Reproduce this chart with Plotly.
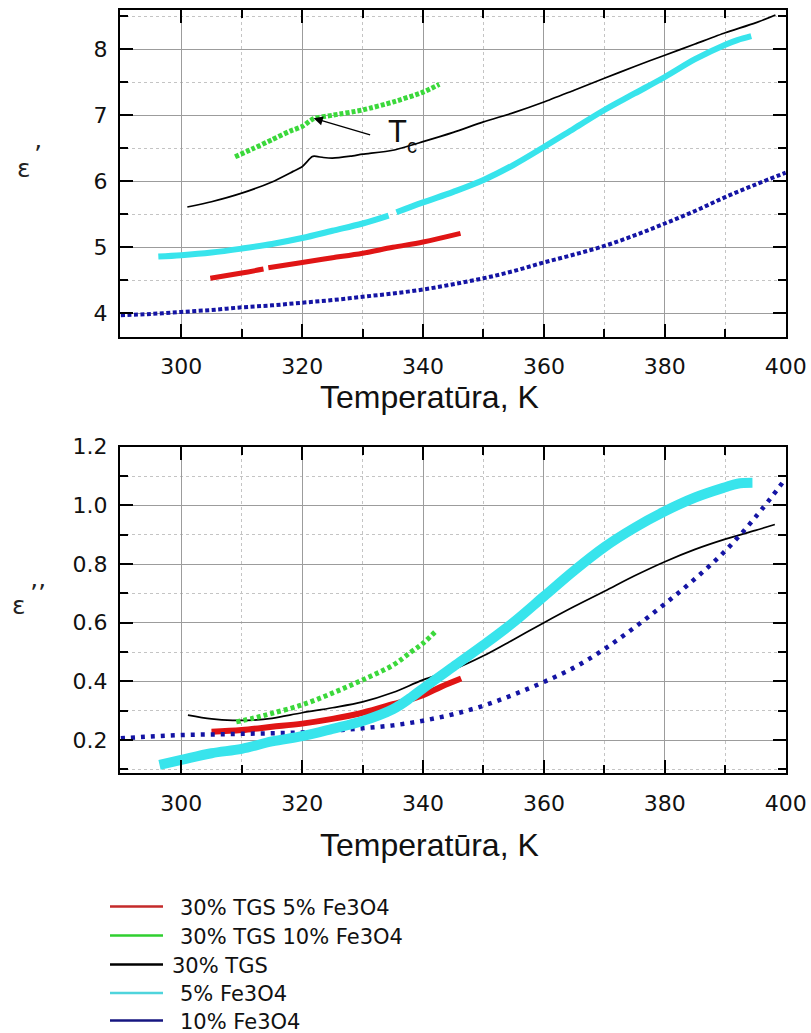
import plotly.graph_objects as go

W, H = 811, 1033

# ---- series labels and colours -------------------------------------------
names = ["30% TGS 5% Fe3O4", "30% TGS 10% Fe3O4", "30% TGS", "5% Fe3O4", "10% Fe3O4"]
legend_colors = ["#c42a2a", "#2fcf2f", "#000000", "#4fd4dc", "#161680"]

# ---- real part, eps' -----------------------------------------------------
t_red_1 = [304.8, 310, 313.6, None, 314.4, 320, 325, 330, 335, 340, 346.2]
e_red_1 = [4.53, 4.61, 4.67, None, 4.69, 4.77, 4.84, 4.91, 5.00, 5.08, 5.21]

t_green_1 = [308.9, 312, 315, 318, 320, 321.9, 325, 330, 335, 340, 342.7]
e_green_1 = [6.37, 6.50, 6.63, 6.76, 6.83, 6.95, 7.00, 7.08, 7.20, 7.35, 7.47]

t_black_1 = [301, 305, 310, 315, 318.5, 320, 321.6, 322, 323.5, 325, 328, 330, 335,
             340, 345, 350, 355, 360, 365, 370, 375, 380, 385, 390, 395, 398.3]
e_black_1 = [5.61, 5.69, 5.82, 5.99, 6.15, 6.22, 6.37, 6.38, 6.36, 6.35, 6.38, 6.41, 6.47,
             6.60, 6.74, 6.90, 7.04, 7.20, 7.38, 7.56, 7.74, 7.91, 8.08, 8.25, 8.40, 8.52]

t_cyan_1 = [296.2, 300, 305, 310, 315, 320, 325, 330, 334.3, None, 335.6, 340, 345,
            350, 355, 360, 365, 370, 375, 380, 385, 390, 392, 394.3]
e_cyan_1 = [4.86, 4.88, 4.92, 4.98, 5.05, 5.14, 5.25, 5.36, 5.48, None, 5.53, 5.68, 5.84,
            6.02, 6.25, 6.52, 6.80, 7.08, 7.33, 7.58, 7.85, 8.07, 8.14, 8.20]

t_blue_1 = [290, 295, 300, 305, 310, 315, 320, 325, 330, 335, 340, 345, 350, 355,
            360, 365, 370, 375, 380, 385, 390, 395, 400]
e_blue_1 = [3.97, 3.99, 4.02, 4.05, 4.09, 4.12, 4.16, 4.20, 4.25, 4.30, 4.36, 4.44, 4.53, 4.64,
            4.77, 4.89, 5.02, 5.18, 5.36, 5.55, 5.76, 5.95, 6.13]

# ---- imaginary part, eps'' ------------------------------------------------
t_red_2 = [305, 310, 315, 320, 325, 330, 335, 340, 343, 346.3]
e_red_2 = [0.228, 0.234, 0.245, 0.256, 0.272, 0.293, 0.322, 0.353, 0.382, 0.410]

t_green_2 = [309.1, 312, 315, 320, 325, 330, 335, 338, 340, 342.3]
e_green_2 = [0.262, 0.275, 0.291, 0.320, 0.360, 0.405, 0.455, 0.500, 0.530, 0.575]

t_black_2 = [301.1, 305, 308.5, 312, 315, 320, 325, 330, 335, 340, 345, 350, 355,
             360, 365, 370, 375, 380, 385, 390, 395, 398.2]
e_black_2 = [0.285, 0.272, 0.267, 0.268, 0.274, 0.293, 0.310, 0.330, 0.362, 0.405, 0.440, 0.487, 0.543,
             0.600, 0.655, 0.707, 0.760, 0.808, 0.850, 0.885, 0.915, 0.935]

t_cyan_2 = [296.4, 300, 305, 310, 315, 320, 325, 330, 335, 338, 340, 345, 350,
            355, 360, 365, 370, 375, 380, 385, 390, 392, 394.5]
e_cyan_2 = [0.115, 0.132, 0.155, 0.170, 0.195, 0.213, 0.238, 0.265, 0.305, 0.345, 0.376, 0.450, 0.524,
            0.602, 0.690, 0.778, 0.858, 0.924, 0.980, 1.027, 1.062, 1.074, 1.077]

t_blue_2 = [290, 295, 300, 305, 310, 315, 320, 325, 330, 335, 340, 345, 350, 355,
            360, 365, 370, 375, 380, 385, 390, 395, 400]
e_blue_2 = [0.206, 0.212, 0.217, 0.219, 0.221, 0.223, 0.226, 0.232, 0.240, 0.250, 0.266, 0.288, 0.317,
            0.355, 0.398, 0.447, 0.510, 0.584, 0.664, 0.750, 0.845, 0.960, 1.092]

# ---- axis ticks ----------------------------------------------------------
x_ticks = [300, 320, 340, 360, 380, 400]
x_minor = [290, 310, 330, 350, 370, 390]
y1_ticks = [4, 5, 6, 7, 8]
y1_minor = [4.5, 5.5, 6.5, 7.5, 8.5]
y2_ticks = [0.2, 0.4, 0.6, 0.8, 1.0, 1.2]
y2_minor = [0.1, 0.3, 0.5, 0.7, 0.9, 1.1]


def px_x(p):
    return p / W


def px_y(p):
    return 1 - p / H


X_DOM = [px_x(120), px_x(786)]
Y1_DOM = [px_y(336.7), px_y(10)]
Y2_DOM = [px_y(773.3), px_y(446.7)]

TICK_FONT = dict(family="DejaVu Sans", size=22, color="#111111")


def axis(domain, rng, ticks, minor_vals, anchor, standoff, fmt=None):
    d = dict(
        domain=domain, range=rng, anchor=anchor, automargin=False,
        tickmode="array", tickvals=ticks,
        ticks="inside", ticklen=13, tickwidth=2, tickcolor="black",
        showline=True, linewidth=2, linecolor="black", mirror="ticks",
        showgrid=True, gridcolor="#9c9c9c", gridwidth=1.2,
        zeroline=False, tickfont=TICK_FONT, ticklabelstandoff=standoff,
        minor=dict(tickmode="array", tickvals=minor_vals, ticks="inside",
                   ticklen=8, tickwidth=2, tickcolor="black",
                   showgrid=True, gridcolor="#c4c4c4", gridwidth=1, griddash="dot"),
    )
    if fmt:
        d["tickformat"] = fmt
    return d


fig = go.Figure()


def add(t, e, color, width, dash, xa, ya, name, smooth=1.0):
    fig.add_trace(go.Scatter(
        x=t, y=e, mode="lines", name=name, showlegend=False,
        line=dict(color=color, width=width, dash=dash, shape="spline", smoothing=smooth),
        xaxis=xa, yaxis=ya, connectgaps=False,
    ))


RED, GREEN, BLACK, CYAN, BLUE = "#e01515", "#3bd83b", "#000000", "#38e4ec", "#1414a4"

# top panel
add(t_blue_1, e_blue_1, BLUE, 4, "4px,2.5px", "x", "y", names[4])
add(t_red_1, e_red_1, RED, 5, "solid", "x", "y", names[0])
add(t_cyan_1, e_cyan_1, CYAN, 6, "solid", "x", "y", names[3])
add(t_black_1, e_black_1, BLACK, 1.7, "solid", "x", "y", names[2], smooth=0.6)
add(t_green_1, e_green_1, GREEN, 5, "4px,2px", "x", "y", names[1], smooth=0.6)

# bottom panel
add(t_black_2, e_black_2, BLACK, 1.7, "solid", "x2", "y2", names[2])
add(t_red_2, e_red_2, RED, 6, "solid", "x2", "y2", names[0])
add(t_blue_2, e_blue_2, BLUE, 4.5, "4px,6px", "x2", "y2", names[4])
add(t_cyan_2, e_cyan_2, CYAN, 10, "solid", "x2", "y2", names[3])
add(t_green_2, e_green_2, GREEN, 5, "4px,3px", "x2", "y2", names[1])

X_RANGE = [289.86, 400.05]

annotations = []
shapes = []


def label(text, x, y, size, family="DejaVu Sans", color="#222"):
    return dict(text=text, x=px_x(x), y=px_y(y), xref="paper", yref="paper",
                xanchor="center", yanchor="middle", showarrow=False,
                font=dict(family=family, size=size, color=color))


# axis titles
for yc in (397, 845):
    annotations.append(label("Temperatūra, K", 429, yc, 32, "Liberation Sans", "#111111"))

# y-axis symbols
annotations += [
    label("ε", 24, 168, 25),
    label("’", 38, 155, 25),
    label("ε", 19, 605, 25),
    label("’’", 38, 593, 25),
]

# Curie point marker
annotations += [
    dict(x=321.9, y=6.955, xref="x", yref="y", ax=58, ay=17, axref="pixel", ayref="pixel",
         text="", showarrow=True, arrowhead=2, arrowsize=1.4, arrowwidth=1.3, arrowcolor="black"),
    label("T", 397, 131.5, 31, "Liberation Sans", "#111"),
    label("c", 412.5, 146, 20, "Liberation Sans", "#111"),
]

# legend block
leg_rows = [906.5, 935.5, 964.5, 993, 1020.5]
leg_text_x = [178, 178, 170, 178, 178]
for name, col, yy, tx in zip(names, legend_colors, leg_rows, leg_text_x):
    shapes.append(dict(type="line", xref="paper", yref="paper",
                       x0=px_x(110), x1=px_x(163), y0=px_y(yy), y1=px_y(yy),
                       line=dict(color=col, width=2.5)))
    annotations.append(dict(text=name, x=px_x(tx), y=px_y(yy + 1), xref="paper", yref="paper",
                            xanchor="left", yanchor="middle", showarrow=False,
                            font=dict(family="DejaVu Sans", size=21, color="#111")))

fig.update_layout(
    width=W, height=H, margin=dict(l=0, r=0, t=0, b=0),
    paper_bgcolor="white", plot_bgcolor="white", showlegend=False,
    xaxis=axis(X_DOM, X_RANGE, x_ticks, x_minor, "y", 9),
    yaxis=axis(Y1_DOM, [3.645, 8.595], y1_ticks, y1_minor, "x", 6),
    xaxis2=axis(X_DOM, X_RANGE, x_ticks, x_minor, "y2", 9),
    yaxis2=axis(Y2_DOM, [0.0865, 1.2003], y2_ticks, y2_minor, "x2", 6, fmt=".1f"),
    annotations=annotations, shapes=shapes,
)

fig.write_html("out.html")
